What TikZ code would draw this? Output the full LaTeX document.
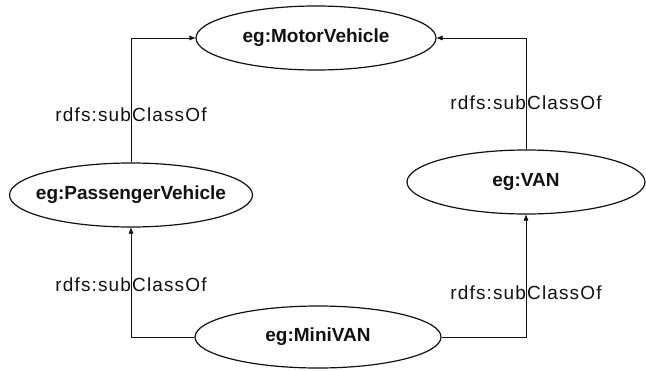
\documentclass[tikz,border=0pt]{standalone}
\usepackage{fontspec}
\setmainfont{Liberation Sans}
\newfontfamily\lblfont[LetterSpace=6]{Liberation Sans}
\usetikzlibrary{arrows.meta,positioning,shapes.geometric}
\definecolor{inkblack}{HTML}{111111}

\begin{document}
\begin{tikzpicture}[
  x=1pt, y=-1pt,
  cls/.style = {ellipse, draw=inkblack, line width=1.2pt, fill=white, inner sep=0pt,
                minimum width=240pt, minimum height=64pt, text=inkblack,
                font=\fontsize{19}{22}\selectfont\bfseries},
  isa/.style = {-{Triangle[length=6pt, width=4.5pt]}, draw=inkblack, line width=0.7pt},
  lbl/.style = {font=\lblfont\fontsize{19}{22}\selectfont, text=inkblack, inner sep=1pt},
]
\useasboundingbox (0,0) rectangle (646,370);

% --- the four classes ----------------------------------------------------------------------
\node[cls] (mv)   at (316,38)  {eg:MotorVehicle};
\node[cls, minimum width=243pt, inner xsep=-10pt] (pv) at (131,195) {eg:PassengerVehicle};
\node[cls, minimum width=238pt] (van) at (526,182) {eg:VAN};
\node[cls, minimum width=246pt, minimum height=62pt] (mini) at (318,337) {eg:MiniVAN};

% --- subclass links, each one labelled on its vertical leg ---------------------------------
\draw[isa] (pv.north) |- node[lbl, pos=0.19] {rdfs:subClassOf} (mv.west);
\draw[isa] (van.north) |- node[lbl, pos=0.21] {rdfs:subClassOf} (mv.east);
\draw[isa] (mini.west) -| node[lbl, pos=0.74] {rdfs:subClassOf} (pv.south);
\draw[isa] (mini.east) -| node[lbl, pos=0.68] {rdfs:subClassOf} (van.south);

\end{tikzpicture}
\end{document}
